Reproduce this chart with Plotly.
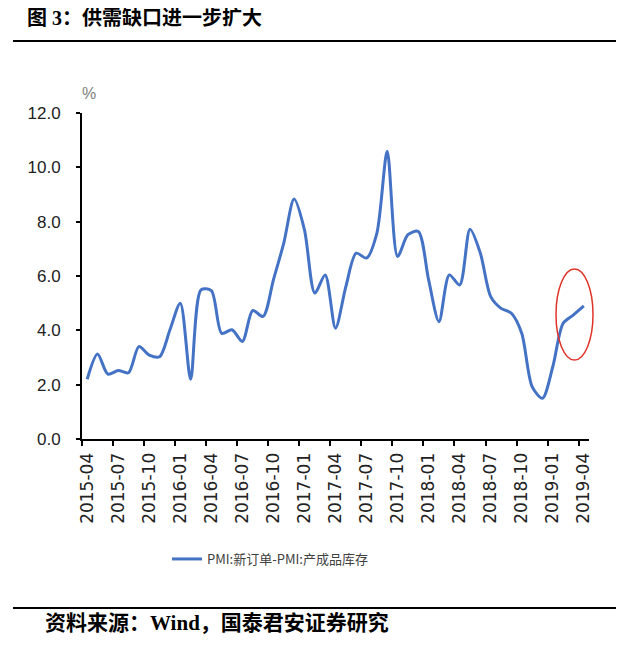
import plotly.graph_objects as go

months = [f"{y}-{m:02d}" for y in range(2015, 2020) for m in range(1, 13)]
months = months[months.index("2015-04"):months.index("2019-04") + 1]

gap_values = [
    2.20, 3.13, 2.39, 2.52, 2.44, 3.40, 3.09, 3.03, 4.02, 5.00,
    2.20, 5.49, 5.46, 3.89, 4.02, 3.59, 4.73, 4.51, 5.86, 7.21,
    8.83, 7.70, 5.37, 6.04, 4.08, 5.61, 6.84, 6.66, 7.58, 10.59,
    6.72, 7.52, 7.64, 5.86, 4.32, 6.04, 5.67, 7.72, 6.84, 5.24,
    4.81, 4.63, 3.89, 1.93, 1.50, 2.66, 4.26, 4.57, 4.90,
]

series_name = "PMI:新订单-PMI:产成品库存"
title_text = "图 3：供需缺口进一步扩大"
source_text = "资料来源：Wind，国泰君安证券研究"
y_ticks = [0, 2, 4, 6, 8, 10, 12]

fig = go.Figure()
fig.add_trace(go.Scatter(
    x=months, y=gap_values, mode="lines", name=series_name,
    line=dict(color="#4472C4", width=3, shape="spline", smoothing=0.8),
))

OFF = 8  # page body margin
# plot area in reference-screen pixels: x 82..589, y 113..439
L, R, T, B = 82, 589, 113, 439
def px(x):
    return (x - L) / (R - L)
def py(y):
    return (B - y) / (B - T)

fig.update_layout(
    width=624, height=664,
    margin=dict(l=L - OFF, r=624 - (R - OFF), t=T - OFF, b=664 - (B - OFF)),
    paper_bgcolor="white", plot_bgcolor="white",
    showlegend=True,
    legend=dict(orientation="h", x=px(270), xanchor="center", y=py(559), yanchor="middle",
                font=dict(family="Noto Sans CJK SC", size=13, color="#404040"),
                itemwidth=30),
    xaxis=dict(type="category", tickmode="linear", tick0=0, dtick=3,
               tickson="boundaries", ticks="outside", ticklen=5, tickwidth=1.5,
               tickcolor="black", showline=True, linecolor="black", linewidth=2,
               showgrid=False, tickangle=-90, ticklabelstandoff=5,
               tickfont=dict(family="DejaVu Sans", size=17, color="#222"),
               range=[-0.5, len(months) - 0.5]),
    yaxis=dict(range=[0, 12], tickvals=y_ticks, tickformat=".1f",
               ticks="outside", ticklen=4, tickwidth=1.5, tickcolor="black",
               showline=True, linecolor="black", linewidth=2, showgrid=False,
               zeroline=False, ticklabelstandoff=12,
               tickfont=dict(family="Liberation Sans Narrow, Liberation Sans", size=17, color="#222")),
)

fig.add_annotation(text="%", xref="paper", yref="paper", x=px(80), y=py(83),
                   showarrow=False, font=dict(family="Liberation Sans Narrow, Liberation Sans", size=16, color="#7f7f7f"))
fig.add_annotation(text="<b>" + title_text + "</b>", xref="paper", yref="paper",
                   x=px(25), y=py(18), xanchor="left", yanchor="middle", showarrow=False,
                   font=dict(family="Liberation Serif, Noto Sans CJK SC", size=20, color="black"))
fig.add_annotation(text="<b>" + source_text + "</b>", xref="paper", yref="paper",
                   x=px(43), y=py(623), xanchor="left", yanchor="middle", showarrow=False,
                   font=dict(family="Liberation Serif, Noto Sans CJK SC", size=21, color="black"))

fig.add_shape(type="line", xref="paper", yref="paper", x0=px(13), x1=px(640), y0=py(41), y1=py(41),
              line=dict(color="black", width=2))
fig.add_shape(type="line", xref="paper", yref="paper", x0=px(13), x1=px(640), y0=py(608), y1=py(608),
              line=dict(color="black", width=2))
# red ellipse highlighting latest months
fig.add_shape(type="circle", xref="paper", yref="paper", x0=px(556), x1=px(593), y0=py(360), y1=py(269),
              line=dict(color="#E0342A", width=1.5))

fig.write_html("out.html")
